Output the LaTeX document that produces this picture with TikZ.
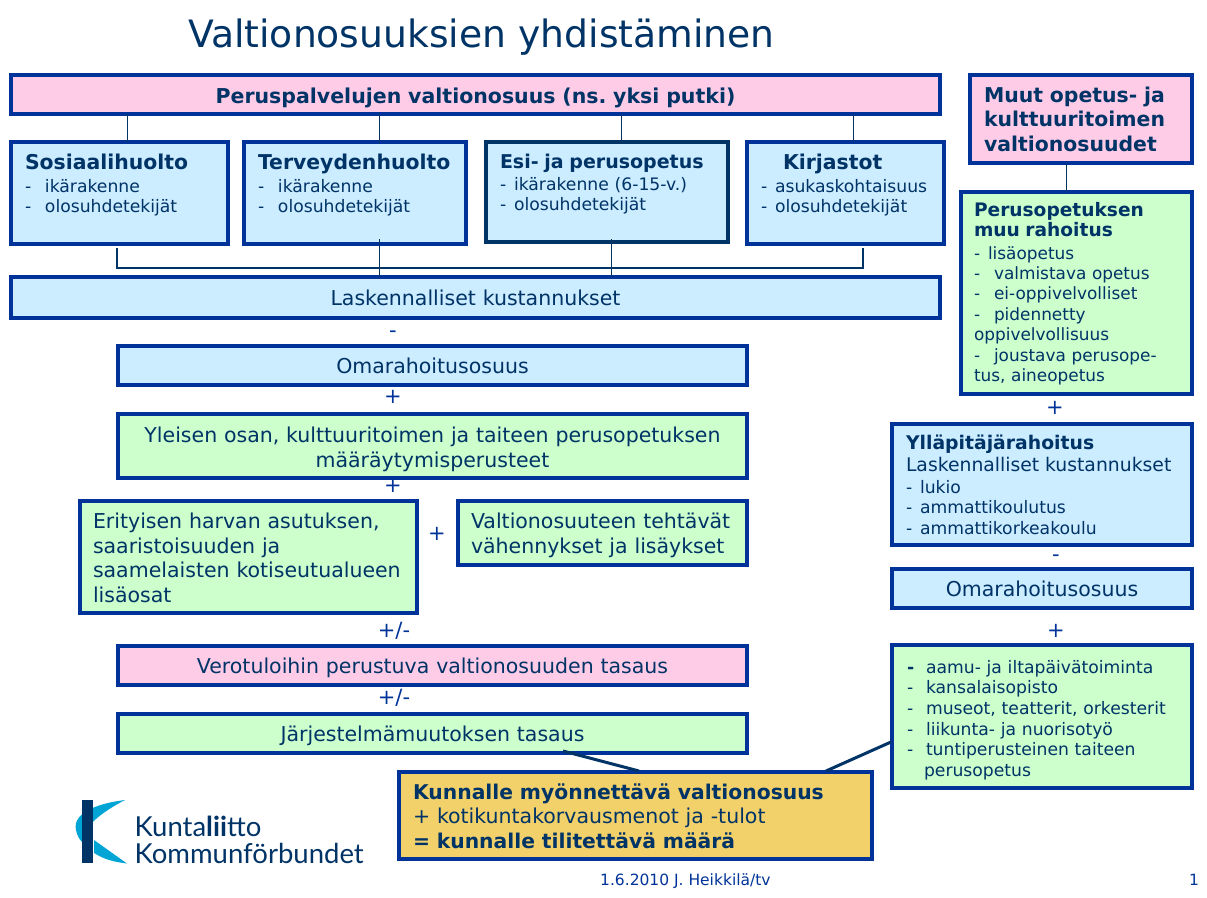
\documentclass[tikz,border=0pt]{standalone}
\usepackage{fontspec}
\setmainfont{DejaVu Sans}
\newfontfamily\logofont{Lato}
\definecolor{navy}{HTML}{003366}
\definecolor{edge}{HTML}{003399}
\definecolor{pinkf}{HTML}{FFCCE8}
\definecolor{bluef}{HTML}{CCECFF}
\definecolor{greenf}{HTML}{CCFFCC}
\definecolor{goldf}{HTML}{F3D16A}
\definecolor{cyanf}{HTML}{00A5D6}
\newcommand\fs[2]{\fontsize{#1}{#2}\selectfont}
\newcommand\li[2][20pt]{\makebox[#1][l]{-}#2}
\frenchspacing
\tikzset{
  sz/.style n args={4}{minimum width=#1pt,minimum height=#2pt,text height=#3pt,text depth=#2pt-#3pt,
    text width=#1pt-2*#4pt,inner xsep=#4pt},
  bx/.style={draw=edge,line width=4pt,anchor=north west,inner ysep=0pt,outer sep=0pt,text=navy,align=left},
  pinkbox/.style={bx,fill=pinkf},
  bluebox/.style={bx,fill=bluef},
  greenbox/.style={bx,fill=greenf},
  goldbox/.style={bx,fill=goldf},
  mid/.style={align=center},
  thin link/.style={draw=navy,line width=1pt},
  thick link/.style={draw=navy,line width=3pt},
  op/.style={text=edge,inner sep=0pt,font=\fs{21}{22}},
  lab/.style={inner sep=0pt,anchor=base west},
}
\begin{document}
\begin{tikzpicture}[x=1pt,y=-1pt]
\useasboundingbox (0,0) rectangle (1207,897);
\fill[white] (0,0) rectangle (1207,897);

\node[lab,text=navy,font=\fs{37.7}{40}] (title) at (188,47) {Valtionosuuksien yhdistäminen};

% connectors behind the boxes
\coordinate (x1) at (127,0); \coordinate (x2) at (379,0); \coordinate (x3) at (621,0); \coordinate (x4) at (853,0);
\coordinate (x5) at (379,0); \coordinate (x6) at (611.5,0); \coordinate (x7) at (1066,0);
\coordinate (brL) at (117,248); \coordinate (brLb) at (117,268); \coordinate (brRb) at (863,268); \coordinate (brR) at (863,248);
\coordinate (s1) at (563,751); \coordinate (s2) at (639,771);
\coordinate (s3) at (891,742); \coordinate (s4) at (826,771);

\node[pinkbox,sz={929}{39}{28}{14},mid,font=\bfseries\fs{20.5}{22}] (top) at (11,75) {Peruspalvelujen valtionosuus (ns. yksi putki)};

\node[bluebox,sz={217}{102}{27.5}{14},font=\fs{17.2}{20.5}] (sos) at (11,142)
 {{\bfseries\fs{20.4}{21.5}Sosiaalihuolto}\\[2pt]\li{ikärakenne}\\\li{olosuhdetekijät}};
\node[bluebox,sz={222}{102}{27.5}{14},font=\fs{17.2}{20.5}] (ter) at (244,142)
 {{\bfseries\fs{20.4}{21.5}Terveydenhuolto}\\[2pt]\li{ikärakenne}\\\li{olosuhdetekijät}};
\node[bluebox,draw=navy,sz={242}{100}{26.5}{14},font=\fs{17.2}{20}] (esi) at (486,142)
 {{\bfseries\fs{19}{21.5}Esi- ja perusopetus}\\[2pt]\li[14pt]{ikärakenne (6-15-v.)}\\\li[14pt]{olosuhdetekijät}};
\node[bluebox,sz={197}{102}{27.5}{14},font=\fs{17.2}{20.5}] (kir) at (747,142)
 {{\bfseries\fs{20.4}{21.5}\hspace*{22pt}Kirjastot}\\[2pt]\li[14pt]{asukaskohtaisuus}\\\li[14pt]{olosuhdetekijät}};

\node[bluebox,sz={929}{41}{28}{14},mid,font=\fs{20.5}{22}] (las) at (11,277) {Laskennalliset kustannukset};
\node[bluebox,sz={629}{39}{27}{14},mid,font=\fs{20.5}{22}] (oma) at (118,346) {Omarahoitusosuus};
\node[greenbox,sz={629}{64}{28}{14},mid,font=\fs{20.5}{25}] (yle) at (118,414)
 {Yleisen osan, kulttuuritoimen ja taiteen perusopetuksen\\määräytymisperusteet};
\node[greenbox,sz={337}{112}{27.7}{13},font=\fs{20.5}{24.6}] (eri) at (80,501)
 {Erityisen harvan asutuksen,\\saaristoisuuden ja\\saamelaisten kotiseutualueen\\lisäosat};
\node[greenbox,sz={289}{64}{27.7}{13},font=\fs{20.5}{24.6}] (val) at (458,501)
 {Valtionosuuteen tehtävät\\vähennykset ja lisäykset};
\node[pinkbox,sz={629}{39}{27}{14},mid,font=\fs{20.5}{22}] (ver) at (118,646) {Verotuloihin perustuva valtionosuuden tasaus};
\node[greenbox,sz={629}{39}{27}{14},mid,font=\fs{20.5}{22}] (jar) at (118,714) {Järjestelmämuutoksen tasaus};
\node[goldbox,sz={473}{87}{27.3}{14},font=\fs{20.5}{24.5}] (kun) at (399,772)
 {{\bfseries\fs{20.3}{24.5}Kunnalle myönnettävä valtionosuus}\\+ kotikuntakorvausmenot ja -tulot\\{\bfseries\fs{20.3}{24.5}= kunnalle tilitettävä määrä}};

\node[pinkbox,sz={222}{88}{27}{14},font=\bfseries\fs{20.4}{24.5}] (muu) at (970,75)
 {Muut opetus- ja\\kulttuuritoimen\\valtionosuudet};
\node[greenbox,sz={231}{202}{24.5}{13},font=\fs{16.9}{20.4}] (per) at (961,192)
 {{\bfseries\fs{18.6}{23}Perusopetuksen\\muu rahoitus}\\[1.8pt]\li[14pt]{lisäopetus}\\\li{valmistava opetus}\\\li{ei-oppivelvolliset}\\\li{pidennetty}\\oppivelvollisuus\\\li{joustava perusope-}\\tus, aineopetus};
\node[bluebox,sz={300}{121}{25}{14},font=\fs{17.2}{20.8}] (yll) at (892,424)
 {{\bfseries\fs{18.8}{22}Ylläpitäjärahoitus}\\[1.5pt]{\fs{18.8}{21.5}Laskennalliset kustannukset}\\[1pt]\li[14pt]{lukio}\\\li[14pt]{ammattikoulutus}\\\li[14pt]{ammattikorkeakoulu}};
\node[bluebox,sz={300}{39}{27.5}{14},mid,font=\fs{20.5}{22}] (oma2) at (892,569) {Omarahoitusosuus};
\node[greenbox,sz={300}{143}{28.3}{15},font=\fs{17.2}{20.6}] (aam) at (892,645)
 {\makebox[19pt][l]{\bfseries-}aamu- ja iltapäivätoiminta\\\li[19pt]{kansalaisopisto}\\\li[19pt]{museot, teatterit, orkesterit}\\\li[19pt]{liikunta- ja nuorisotyö}\\\li[19pt]{tuntiperusteinen taiteen}\\\hspace*{17pt}perusopetus};

% connectors
\draw[thin link] (x1 |- top.south) -- (x1 |- sos.north);
\draw[thin link] (x2 |- top.south) -- (x2 |- ter.north);
\draw[thin link] (x3 |- top.south) -- (x3 |- esi.north);
\draw[thin link] (x4 |- top.south) -- (x4 |- kir.north);
\draw[thin link] (x7 |- muu.south) -- (x7 |- per.north);
\draw[thin link,line width=1.5pt] (brL) -- (brLb) -- (brRb) -- (brR);
\draw[thin link] (x5 |- 0,239) -- (x5 |- las.north);
\draw[thin link] (x6 |- 0,239) -- (x6 |- las.north);
\draw[thick link] (s1) -- (s2);
\draw[thick link] (s3) -- (s4);

% operators
\node[op] (o1) at (393,334) {-};
\node[op] (o2) at (393,397) {+};
\node[op] (o3) at (393,486) {+};
\node[op] (o4) at (437,534) {+};
\node[op] (o5) at (394,631) {+/-};
\node[op] (o6) at (394,698) {+/-};
\node[op] (o7) at (1055,408) {+};
\node[op] (o8) at (1056,558) {-};
\node[op] (o9) at (1056,631) {+};

% logo
\fill[cyanf] (125,800) .. controls (100,803) and (72,812) .. (76,830) .. controls (77,835) and (79,839) .. (82,842)
  .. controls (82,828) and (100,813) .. (125,800) -- cycle;
\fill[cyanf] (94,840) -- (127,863.5) .. controls (115,862) and (105,860) .. (94,853) -- cycle;
\fill[navy] (82,800) rectangle (93.3,863);
\node[lab,text=navy,font=\logofont\fs{27.5}{28}] (logo1) at (134.5,836.5) {Kunta{\bfseries lii}tto};
\node[lab,text=navy,font=\logofont\fs{27.5}{28}] (logo2) at (134.5,863) {Kommunförbundet};

\node[lab,text=edge,font=\fs{15.5}{17}] (foot) at (600,885) {1.6.2010 J. Heikkilä/tv};
\node[lab,text=edge,font=\fs{15.5}{17}] (page) at (1189,885) {1};
\end{tikzpicture}
\end{document}
